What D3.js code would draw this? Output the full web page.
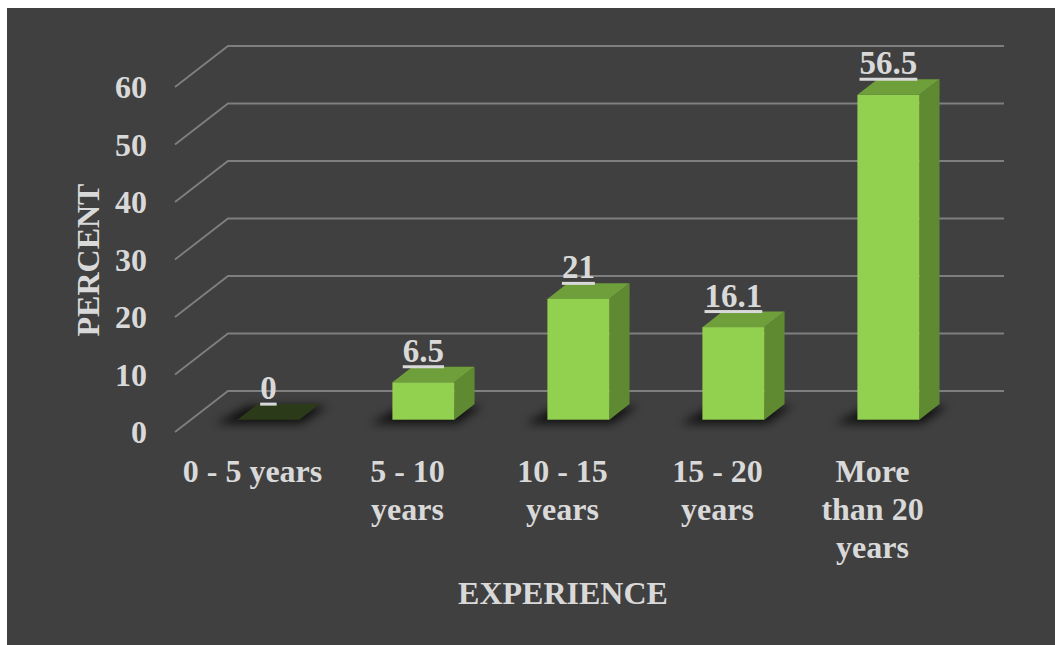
<!DOCTYPE html>
<html>
<head>
<meta charset="utf-8">
<script src="https://cdn.jsdelivr.net/npm/d3@7/dist/d3.min.js"></script>
<style>
  html, body { margin: 0; padding: 0; background: #ffffff; }
  svg { display: block; }
  text { font-family: "Liberation Serif", "Times New Roman", serif; font-weight: bold; fill: #d9d9d9; }
</style>
</head>
<body>
<svg id="chart" width="1055" height="645"></svg>
<script>
// Share of respondents by years of experience
const categories = ["0 - 5 years", "5 - 10 years", "10 - 15 years", "15 - 20 years", "More than 20 years"];
const categoryLines = [["0 - 5 years"], ["5 - 10", "years"], ["10 - 15", "years"], ["15 - 20", "years"], ["More", "than 20", "years"]];
const percents = [0, 6.5, 21, 16.1, 56.5];
const valueLabels = ["0", "6.5", "21", "16.1", "56.5"];
const yTicks = [0, 10, 20, 30, 40, 50, 60];

const svg = d3.select("#chart");
const W = 1055, H = 645;

// panel
svg.append("rect").attr("x", 7).attr("y", 8).attr("width", W - 7).attr("height", H - 8).attr("fill", "#404040");

// front plane scales; the floor/back wall recede by a fixed oblique offset
const x = d3.scaleBand().domain(categories).range([175, 950]).paddingInner(0).paddingOuter(0);
const y = d3.scaleLinear().domain([0, 60]).range([432, 87]);
const depth = { dx: 53, dy: -41 };
const barFront = 0.3, barBack = 0.68;   // fraction of the floor depth occupied by bars
const barWidthFrac = 0.4;

const defs = svg.append("defs");
defs.append("filter").attr("id", "shadowBlur").attr("x", "-50%").attr("y", "-50%").attr("width", "200%").attr("height", "200%")
  .append("feGaussianBlur").attr("stdDeviation", 5);

// gridlines: oblique run on the left wall plus horizontal run on the back wall
const grid = svg.append("g").attr("class", "grid");
yTicks.forEach(v => {
  const y0 = y(v);
  grid.append("path")
    .attr("d", `M${x.range()[0]},${y0} L${x.range()[0] + depth.dx},${y0 + depth.dy} L${x.range()[1] + depth.dx + 1},${y0 + depth.dy}`)
    .attr("fill", "none").attr("stroke", "#7f7f7f").attr("stroke-width", 1.8);
});

// y tick labels
svg.append("g").selectAll("text").data(yTicks).join("text")
  .attr("x", 147).attr("y", d => y(d)).attr("dy", "0.35em")
  .attr("text-anchor", "end").attr("font-size", 32)
  .text(d => d);

// bars
const bw = x.bandwidth() * barWidthFrac;
const fx = barFront * depth.dx, fy = barFront * depth.dy;
const ddx = (barBack - barFront) * depth.dx, ddy = (barBack - barFront) * depth.dy;

const bars = svg.append("g").selectAll("g").data(categories).join("g");

bars.each(function (c, i) {
  const g = d3.select(this);
  const v = percents[i];
  const x0 = x(c) + x.bandwidth() * (1 - barWidthFrac) / 2 + fx;
  const x1 = x0 + bw;
  const yb = y(0) + fy;
  const yt = y(v) + fy;

  // soft contact shadow on the floor
  g.append("path")
    .attr("d", `M${x0 - 22},${yb + 4} L${x1 + 2},${yb + 4} L${x1 + ddx + 8},${yb + ddy + 2} L${x0 + ddx - 10},${yb + ddy + 2} Z`)
    .attr("fill", "#000").attr("opacity", 0.75).attr("filter", "url(#shadowBlur)");

  if (v === 0) {
    g.append("path")
      .attr("d", `M${x0},${yb} L${x1},${yb} L${x1 + ddx},${yb + ddy} L${x0 + ddx},${yb + ddy} Z`)
      .attr("fill", "#2b3a18");
  } else {
    // side face
    g.append("path")
      .attr("d", `M${x1},${yb} L${x1 + ddx},${yb + ddy} L${x1 + ddx},${yt + ddy} L${x1},${yt} Z`)
      .attr("fill", "#5f8a31");
    // top face
    g.append("path")
      .attr("d", `M${x0},${yt} L${x1},${yt} L${x1 + ddx},${yt + ddy} L${x0 + ddx},${yt + ddy} Z`)
      .attr("fill", "#6f9f3b");
    // front face
    g.append("rect")
      .attr("x", x0).attr("y", yt).attr("width", bw).attr("height", yb - yt)
      .attr("fill", "#92d050");
  }

  // underlined value label
  const cx = (x0 + x1) / 2;
  const lineY = yt + ddy;
  const t = g.append("text")
    .attr("x", cx).attr("y", lineY - 5)
    .attr("text-anchor", "middle").attr("font-size", 33)
    .text(valueLabels[i]);
  const w = t.node().getComputedTextLength();
  g.append("rect")
    .attr("x", cx - w / 2).attr("y", lineY - 1.5).attr("width", w).attr("height", 3)
    .attr("fill", "#d9d9d9");
});

// category labels
svg.append("g").selectAll("text").data(categories).join("text")
  .attr("x", d => x(d) + x.bandwidth() / 2)
  .attr("y", 482)
  .attr("text-anchor", "middle").attr("font-size", 32)
  .each(function (d, i) {
    d3.select(this).selectAll("tspan").data(categoryLines[i]).join("tspan")
      .attr("x", x(d) + x.bandwidth() / 2)
      .attr("dy", (l, k) => k === 0 ? 0 : 38)
      .text(l => l);
  });

// axis titles
svg.append("text")
  .attr("x", 563).attr("y", 604)
  .attr("text-anchor", "middle").attr("font-size", 32)
  .text("EXPERIENCE");

svg.append("text")
  .attr("transform", "translate(99,260) rotate(-90)")
  .attr("text-anchor", "middle").attr("font-size", 32)
  .text("PERCENT");
</script>
</body>
</html>
